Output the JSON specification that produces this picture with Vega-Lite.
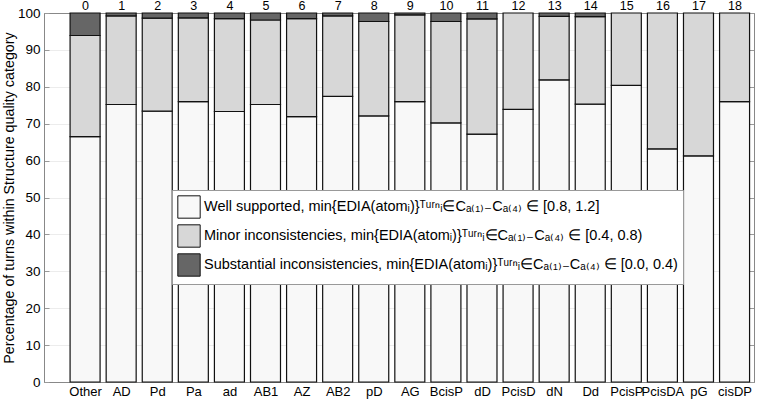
{
  "$schema": "https://vega.github.io/schema/vega-lite/v6.json",
  "width": 710,
  "height": 369,
  "autosize": "none",
  "padding": {"left": 44, "top": 13, "right": 22, "bottom": 19},
  "background": "white",
  "config": {
    "font": "Liberation Sans",
    "view": {"stroke": "#888", "strokeWidth": 1},
    "axis": {"labelColor": "black", "titleColor": "black", "domainColor": "#888", "tickColor": "#999", "labelFont": "Liberation Sans", "titleFont": "Liberation Sans"}
  },
  "data": {"values": [
    {"i": 0, "name": "Other", "q1": 66.5, "q2": 27.4, "q3": 6.1},
    {"i": 1, "name": "AD", "q1": 75.2, "q2": 24.0, "q3": 0.8},
    {"i": 2, "name": "Pd", "q1": 73.4, "q2": 25.2, "q3": 1.4},
    {"i": 3, "name": "Pa", "q1": 76.0, "q2": 22.7, "q3": 1.3},
    {"i": 4, "name": "ad", "q1": 73.3, "q2": 25.2, "q3": 1.5},
    {"i": 5, "name": "AB1", "q1": 75.2, "q2": 22.9, "q3": 1.9},
    {"i": 6, "name": "AZ", "q1": 71.9, "q2": 26.6, "q3": 1.5},
    {"i": 7, "name": "AB2", "q1": 77.4, "q2": 21.8, "q3": 0.8},
    {"i": 8, "name": "pD", "q1": 72.1, "q2": 25.6, "q3": 2.3},
    {"i": 9, "name": "AG", "q1": 76.0, "q2": 23.5, "q3": 0.5},
    {"i": 10, "name": "BcisP", "q1": 70.2, "q2": 27.5, "q3": 2.3},
    {"i": 11, "name": "dD", "q1": 67.2, "q2": 31.2, "q3": 1.6},
    {"i": 12, "name": "PcisD", "q1": 73.9, "q2": 26.1, "q3": 0},
    {"i": 13, "name": "dN", "q1": 81.9, "q2": 17.2, "q3": 0.9},
    {"i": 14, "name": "Dd", "q1": 75.3, "q2": 23.7, "q3": 1.0},
    {"i": 15, "name": "PcisP", "q1": 80.4, "q2": 19.6, "q3": 0},
    {"i": 16, "name": "PcisDA", "q1": 63.2, "q2": 36.8, "q3": 0},
    {"i": 17, "name": "pG", "q1": 61.3, "q2": 38.7, "q3": 0},
    {"i": 18, "name": "cisDP", "q1": 76.0, "q2": 24.0, "q3": 0}
  ]},
  "transform": [
    {"fold": ["q1", "q2", "q3"], "as": ["quality", "pct"]},
    {"filter": "datum.pct > 0"}
  ],
  "layer": [
    {
      "mark": {"type": "bar", "size": 30, "stroke": "#111", "strokeWidth": 1.2},
      "encoding": {
        "x": {"field": "i", "type": "quantitative",
          "scale": {"domain": [-1, 18.4], "nice": false, "zero": false},
          "axis": {"orient": "bottom", "values": [0,1,2,3,4,5,6,7,8,9,10,11,12,13,14,15,16,17,18], "grid": false, "title": null,
            "labelExpr": "['Other','AD','Pd','Pa','ad','AB1','AZ','AB2','pD','AG','BcisP','dD','PcisD','dN','Dd','PcisP','PcisDA','pG','cisDP'][datum.value]",
            "labelFontSize": 13, "tickSize": -5, "labelPadding": 8, "labelFlush": false, "labelOverlap": false, "labelBound": false}},
        "y": {"field": "pct", "type": "quantitative", "stack": "zero",
          "scale": {"domain": [0, 100], "nice": false},
          "axis": {"orient": "left", "values": [0,10,20,30,40,50,60,70,80,90,100], "title": "Percentage of turns within Structure quality category",
            "titleFontSize": 14.3, "titleFontWeight": "normal", "labelFontSize": 13.5, "tickSize": -5, "labelPadding": 9, "gridColor": "#ececec", "grid": true, "titlePadding": 1, "labelOverlap": false}},
        "color": {"field": "quality", "type": "nominal",
          "scale": {"domain": ["q1", "q2", "q3"], "range": ["#f8f8f8", "#d7d7d7", "#666666"]},
          "legend": {"orient": "none", "legendX": 128, "legendY": 177, "title": null,
            "symbolType": "square", "symbolSize": 500, "symbolStrokeColor": "#111", "symbolStrokeWidth": 1, "symbolOpacity": 1,
            "labelFontSize": 14.5, "labelLimit": 0, "labelColor": "black", "labelOffset": 3,
            "rowPadding": 1, "padding": 5, "fillColor": "white", "strokeColor": "#999",
            "labelExpr": "datum.value == 'q1' ? 'Well supported, min{EDIA(atomᵢ)}ᵀᵘʳⁿᵢ∈Cₐ₍₁₎₋Cₐ₍₄₎ ∈ [0.8, 1.2]' : datum.value == 'q2' ? 'Minor inconsistencies, min{EDIA(atomᵢ)}ᵀᵘʳⁿᵢ∈Cₐ₍₁₎₋Cₐ₍₄₎ ∈ [0.4, 0.8)' : 'Substantial inconsistencies, min{EDIA(atomᵢ)}ᵀᵘʳⁿᵢ∈Cₐ₍₁₎₋Cₐ₍₄₎ ∈ [0.0, 0.4)'"}},
        "order": {"field": "quality", "sort": "ascending"}
      }
    },
    {
      "mark": {"type": "point", "opacity": 0},
      "encoding": {
        "x": {"field": "i", "type": "quantitative",
          "scale": {"domain": [-1, 18.4], "nice": false, "zero": false},
          "axis": {"orient": "top", "values": [0,1,2,3,4,5,6,7,8,9,10,11,12,13,14,15,16,17,18], "grid": false, "title": null,
            "labelFontSize": 12.5, "ticks": false, "labelPadding": 1, "labelBound": false, "labelFlush": false}},
        "y": {"field": "pct", "type": "quantitative",
          "scale": {"domain": [0, 100], "nice": false},
          "axis": {"orient": "right", "values": [0,10,20,30,40,50,60,70,80,90,100], "title": null, "labels": false, "tickSize": -5, "grid": false}}
      }
    }
  ],
  "resolve": {"axis": {"x": "independent", "y": "independent"}}
}
